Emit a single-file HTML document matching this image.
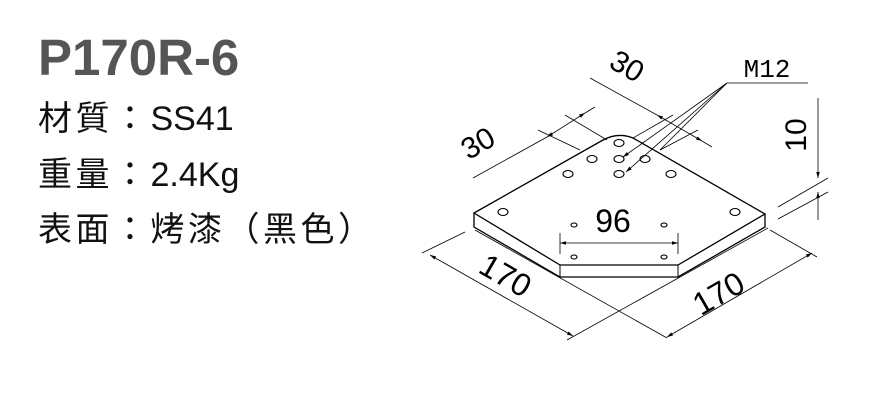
<!DOCTYPE html>
<html><head><meta charset="utf-8"><style>
body{margin:0;background:#fff;width:872px;height:401px;overflow:hidden;position:relative;font-family:"Liberation Sans","Noto Sans CJK TC",sans-serif}
.t{position:absolute;left:38px;white-space:nowrap;color:#111}
.cj{letter-spacing:3.5px}
</style></head><body>
<div class="t" style="top:28px;font-size:51px;font-weight:bold;color:#555;">P170R-6</div>
<div class="t" style="top:91px;font-size:34px;"><span class="cj">材質：</span>SS41</div>
<div class="t" style="top:147px;font-size:34px;"><span class="cj">重量：</span>2.4Kg</div>
<div class="t cj" style="top:202px;font-size:34px;">表面：烤漆（黑色）</div>
<svg width="872" height="401" style="position:absolute;left:0;top:0" stroke="#000" fill="none" stroke-width="1">
<defs><marker id="a" viewBox="0 0 10 10" refX="10" refY="5" markerWidth="10" markerHeight="6" markerUnits="userSpaceOnUse" orient="auto-start-reverse"><path d="M0,2 L10,5 L0,8z" fill="#000" stroke="none"/></marker></defs>
<path d="M474,213 L603,140 Q618,132 633,138 L765,214 L678,265 L560,265 Z" stroke-width="1.3"/>
<path d="M474,213 L474,227 L560,277 L678,277 L765,227 L765,214" stroke-width="1.3"/>
<path d="M560,265 L560,277 M678,265 L678,277"/>
<g stroke-width="1.1">
<ellipse cx="619" cy="143" rx="5" ry="3.5"/>
<ellipse cx="592" cy="159" rx="5" ry="3.5"/><ellipse cx="619" cy="159" rx="5" ry="3.5"/><ellipse cx="645" cy="159" rx="5" ry="3.5"/>
<ellipse cx="568" cy="174" rx="5" ry="3.5"/><ellipse cx="619" cy="174" rx="5" ry="3.5"/><ellipse cx="671" cy="174" rx="5" ry="3.5"/>
<ellipse cx="503" cy="212" rx="5" ry="3.5"/><ellipse cx="735" cy="212" rx="5" ry="3.5"/>
<ellipse cx="574" cy="225" rx="3" ry="2"/><ellipse cx="664" cy="225" rx="3" ry="2"/>
<ellipse cx="574" cy="257" rx="3" ry="2"/><ellipse cx="664" cy="257" rx="3" ry="2"/>
</g>
<g stroke-width="0.8">
<path d="M560,233 L560,254 M678,233 L678,254"/>
<line x1="560" y1="243" x2="678" y2="243" marker-start="url(#a)" marker-end="url(#a)"/>
<path d="M422,253 L465,232 M475,230 L667,338 M567,340 L768,228 M770,230 L817,257"/>
<line x1="430" y1="255" x2="573" y2="336" marker-start="url(#a)" marker-end="url(#a)"/>
<line x1="667" y1="337" x2="812" y2="253" marker-start="url(#a)" marker-end="url(#a)"/>
<path d="M538,130 L580,150 M565,115 L607,140"/>
<line x1="473" y1="178" x2="547" y2="137"/><line x1="547" y1="137" x2="585" y2="113" marker-start="url(#a)" marker-end="url(#a)"/><line x1="585" y1="113" x2="595" y2="107"/>
<path d="M633,138 L673,115 M660,150 L698,130"/>
<line x1="590" y1="78" x2="657" y2="115"/><line x1="657" y1="115" x2="702" y2="141" marker-start="url(#a)" marker-end="url(#a)"/><line x1="702" y1="141" x2="712" y2="147"/>
<path d="M727,83 L808,83"/>
<line x1="727" y1="83" x2="623" y2="157" marker-end="url(#a)"/>
<line x1="727" y1="83" x2="626" y2="172" marker-end="url(#a)"/>
<line x1="727" y1="83" x2="660" y2="150"/>
<path d="M778,207 L828,178 M778,219 L828,192"/>
<line x1="818" y1="98" x2="818" y2="178" marker-end="url(#a)"/>
<line x1="818" y1="220" x2="818" y2="192" marker-end="url(#a)"/>
</g>
<g fill="#000" stroke="none" font-family="Liberation Sans, sans-serif">
<text x="613" y="232" font-size="32" text-anchor="middle">96</text>
<text transform="translate(483,152) rotate(-30)" font-size="30" text-anchor="middle">30</text>
<text transform="translate(622,75) rotate(30)" font-size="30" text-anchor="middle">30</text>
<text transform="translate(500,285) rotate(30)" font-size="32" text-anchor="middle">170</text>
<text transform="translate(724,303) rotate(-30)" font-size="32" text-anchor="middle">170</text>
<text transform="translate(806,135) rotate(-90)" font-size="30" text-anchor="middle">10</text>
<text x="767" y="77" font-size="26" font-family="Liberation Mono, monospace" text-anchor="middle">M12</text>
</g>
</svg>
</body></html>
